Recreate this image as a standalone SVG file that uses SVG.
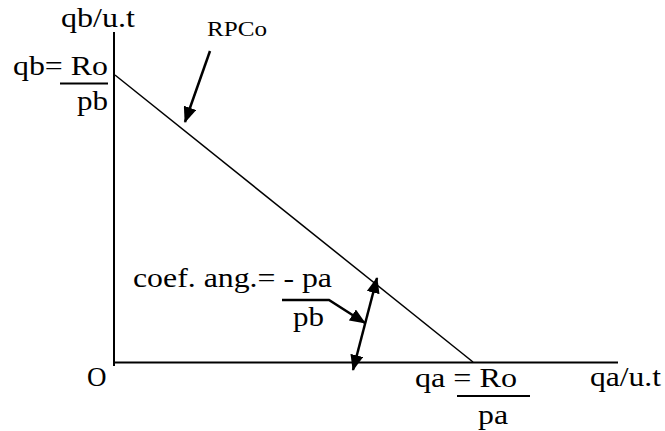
<svg xmlns="http://www.w3.org/2000/svg" width="665" height="431" viewBox="0 0 665 431">
<style>
text{font-family:"Liberation Serif","Times New Roman",serif;font-size:27px;fill:#000}
.sm{font-size:21px}
.ln{stroke:#000;stroke-width:2;fill:none}
.thin{stroke:#000;stroke-width:1.5;fill:none}
.arr{stroke:#000;stroke-width:2.5;fill:none}
</style>
<defs>
<marker id="ah" markerUnits="userSpaceOnUse" markerWidth="16" markerHeight="13" refX="15" refY="6.5" orient="auto-start-reverse" viewBox="0 0 16 13">
<path d="M0,0 L16,6.5 L0,13 z" fill="#000"/>
</marker>
</defs>
<g id="axes">
<line class="ln" x1="114" y1="32" x2="114" y2="366"/>
<line class="ln" x1="113" y1="362.5" x2="618" y2="362.5"/>
<text x="61" y="27" textLength="74" lengthAdjust="spacingAndGlyphs">qb/u.t</text>
<text x="590" y="386" textLength="71" lengthAdjust="spacingAndGlyphs">qa/u.t</text>
<text x="87" y="386">O</text>
</g>
<g id="rpco-line">
<line class="thin" x1="115" y1="75" x2="473" y2="362"/>
</g>
<g id="label-rpco">
<text class="sm" x="207" y="36" textLength="60" lengthAdjust="spacingAndGlyphs">RPCo</text>
</g>
<g id="label-qb">
<text x="13" y="75" textLength="95" lengthAdjust="spacingAndGlyphs">qb= Ro</text>
<line class="ln" x1="60" y1="83.5" x2="108" y2="83.5"/>
<text x="77" y="110" textLength="31" lengthAdjust="spacingAndGlyphs">pb</text>
</g>
<g id="label-qa">
<text x="415" y="387" textLength="102" lengthAdjust="spacingAndGlyphs">qa = Ro</text>
<line class="ln" x1="457" y1="396" x2="530" y2="396"/>
<text x="478" y="424" textLength="30" lengthAdjust="spacingAndGlyphs">pa</text>
</g>
<g id="label-coef">
<text x="133" y="287" textLength="199" lengthAdjust="spacingAndGlyphs">coef. ang.= - pa</text>
<text x="293" y="326" textLength="31" lengthAdjust="spacingAndGlyphs">pb</text>
</g>
<g id="connectors">
<line class="arr" x1="210" y1="51" x2="185" y2="122" marker-end="url(#ah)"/>
<polyline class="arr" points="282,300 329,300 365,323" marker-end="url(#ah)"/>
<line class="arr" x1="353" y1="370" x2="377" y2="278" marker-start="url(#ah)" marker-end="url(#ah)"/>
</g>
</svg>
